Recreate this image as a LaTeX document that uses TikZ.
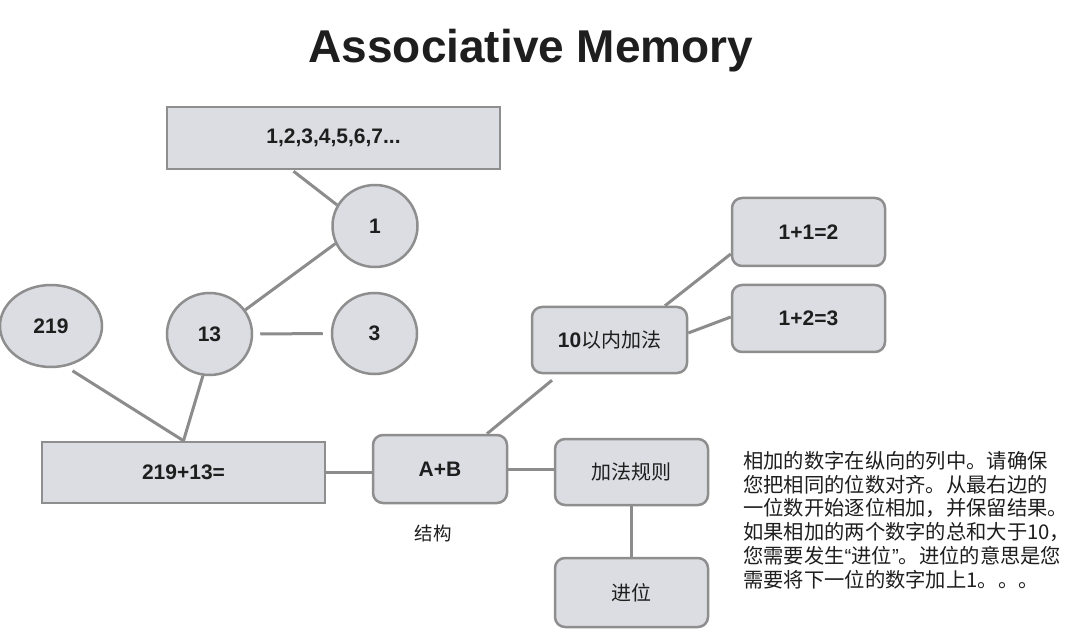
\documentclass[tikz,border=0pt]{standalone}
\usepackage{fontspec}
\setmainfont{Liberation Sans}
\newfontfamily\cjk{Noto Sans CJK SC}
\usetikzlibrary{calc,shapes.geometric}
\definecolor{boxfill}{HTML}{DCDDE2}
\definecolor{boxdraw}{HTML}{8E8E8E}
\definecolor{linkcol}{HTML}{8C8C8C}
\definecolor{txt}{HTML}{1E1E1E}
\begin{document}
\begin{tikzpicture}[x=1pt,y=-1pt,
  sq/.style={draw=boxdraw, line width=2.5pt, fill=boxfill, inner sep=0pt,
    font=\fontsize{21}{24}\selectfont\bfseries, text=txt},
  rbox/.style={sq, rounded corners=10pt},
  ell/.style={sq, ellipse},
  cjkbox/.style={rbox, font=\cjk\fontsize{20}{24}\selectfont},
  link/.style={draw=linkcol, line width=3pt}
]
\useasboundingbox (0,0) rectangle (1080,639);
\fill[white] (0,0) rectangle (1080,639);

\node[font=\fontsize{46}{50}\selectfont\bfseries, text=txt, anchor=base] (title) at (531,63) {Associative Memory};

\node[sq, minimum width=333pt, minimum height=62pt] (seq) at (333.5,138) {1,2,3,4,5,6,7...};
\node[ell, minimum width=85pt, minimum height=82pt] (one) at (375,226) {1};
\node[ell, minimum width=85pt, minimum height=82pt] (thirteen) at (209.5,334) {13};
\node[ell, minimum width=85pt, minimum height=81pt] (three) at (374.5,333.5) {3};
\node[ell, minimum width=102pt, minimum height=82pt] (n219) at (51,326) {219};
\node[sq, minimum width=283pt, minimum height=61pt] (sum) at (183.5,472.5) {219+13=};
\node[rbox, minimum width=134pt, minimum height=68pt] (ab) at (440,469) {A+B};
\node[rbox, minimum width=155pt, minimum height=66pt] (ten) at (609.5,340) {10{\cjk\mdseries\fontsize{20}{24}\selectfont 以内加法}};
\node[rbox, minimum width=153pt, minimum height=68pt] (p1) at (808.5,232) {1+1=2};
\node[rbox, minimum width=153pt, minimum height=67pt] (p2) at (808.5,318.5) {1+2=3};
\node[cjkbox, minimum width=153pt, minimum height=66pt] (rule) at (631.5,472) {加法规则};
\node[cjkbox, minimum width=153pt, minimum height=69pt] (carry) at (631.5,592.5) {进位};
\node[font=\cjk\fontsize{18.5}{22}\selectfont, text=txt] (struct) at (433,533) {结构};

\node[align=left, anchor=north west, inner sep=0pt, font=\cjk\fontsize{20.3}{23.8}\selectfont, text=txt] (para) at (743,451)
{相加的数字在纵向的列中。请确保\\
您把相同的位数对齐。从最右边的\\
一位数开始逐位相加，并保留结果。\\
如果相加的两个数字的总和大于10，\\
您需要发生{\rmfamily “}进位{\rmfamily ”}。进位的意思是您\\
需要将下一位的数字加上1。。。};

\draw[link] ($(seq.south)+(-40,1)$) -- (one.151);
\draw[link] (one.204) -- (thirteen.34);
\draw[link, shorten <=7pt, shorten >=8pt] (thirteen.east) -- (three.west);
\draw[link, shorten <=8pt] (n219.290) -- (sum.north);
\draw[link] (thirteen.261) -- (sum.north);
\draw[link] (sum.east) -- (sum.east -| ab.west);
\draw[link] ($(ab.north)+(47,0)$) -- ($(ten.south)+(-57.5,6)$);
\draw[link] ($(ten.north)+(55.5,0)$) -- ($(p1.west)+(0,22)$);
\draw[link] ($(ten.east)+(0,-7)$) -- ($(p2.west)+(0,-1.5)$);
\draw[link] (ab.east) -- (ab.east -| rule.west);
\draw[link] (rule.south) -- (carry.north);
\end{tikzpicture}
\end{document}
